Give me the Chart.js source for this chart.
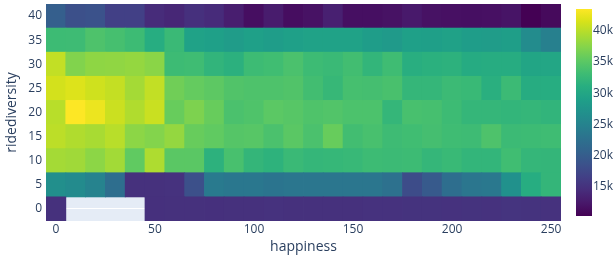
<!DOCTYPE html>
<html>
<head>
<meta charset="utf-8">
<script src="https://cdn.jsdelivr.net/npm/chart.js@4.4.1/dist/chart.umd.min.js"></script>
<style>
  body { margin: 0; background: #fff; }
  #wrap { position: relative; width: 614px; height: 260px; }
  #heat { position: absolute; left: 0; top: 0; }
  #cbar { position: absolute; left: 560px; top: 0; }
</style>
</head>
<body>
<div id="wrap">
  <canvas id="heat" width="614" height="260"></canvas>
  <canvas id="cbar" width="54" height="260"></canvas>
</div>
<script>
// bin centres
const xBins = ['0', '10', '20', '30', '40', '50', '60', '70', '80', '90', '100', '110', '120',
    '130', '140', '150', '160', '170', '180', '190', '200', '210', '220', '230', '240', '250'];
const yBins = [0, 5, 10, 15, 20, 25, 30, 35, 40];
const yTicks = [0, 5, 10, 15, 20, 25, 30, 35, 40];
const cbTicks = [15000, 20000, 25000, 30000, 35000, 40000];

// counts per row (null = empty bin)
const row0 = [14900, null, null, null, null, 14800, 14900, 14900, 14800, 14900, 14900, 15000, 14900,
    14900, 14900, 14900, 15000, 15000, 15100, 15100, 15000, 15100, 15000, 15200, 15100, 15000];
const row5 = [26700, 26100, 25000, 22300, 14900, 14900, 15000, 18400, 23800, 23500, 23400, 23000, 23300,
    23300, 23300, 23300, 23300, 22600, 17900, 19600, 22200, 23300, 23600, 27000, 31000, 32200];
const row10 = [39000, 38800, 37800, 38900, 35400, 39500, 35000, 35000, 31600, 33800, 32200, 31700, 32800,
    32300, 32400, 32600, 33000, 32900, 33000, 32300, 32700, 32100, 32100, 33300, 32300, 32200];
const row15 = [40200, 39600, 39200, 40000, 37800, 37300, 38200, 35800, 35400, 34700, 34800, 34000, 35000,
    34000, 35800, 33400, 33800, 33100, 33300, 33600, 33200, 33100, 34200, 32900, 33000, 33200];
const row20 = [40000, 43500, 42600, 40900, 39600, 40800, 35800, 37000, 35800, 34000, 34300, 35100, 34800,
    34300, 34500, 34100, 34100, 32300, 33800, 33700, 33000, 32300, 32300, 32100, 32300, 32000];
const row25 = [41300, 41800, 41100, 40600, 39000, 40500, 36300, 35600, 35200, 34400, 34200, 34200, 34400,
    33400, 32500, 33700, 33600, 33900, 32300, 32300, 32900, 32700, 31300, 32900, 30900, 31000];
const row30 = [40500, 37200, 37900, 38000, 38200, 37700, 33000, 33200, 32000, 31500, 33000, 33300, 34000,
    33000, 32800, 33400, 32100, 33200, 31200, 31400, 31600, 30700, 30900, 30900, 29800, 29900];
const row35 = [33000, 33100, 34200, 33700, 33000, 31000, 32800, 29300, 29000, 28500, 29000, 28700, 29000,
    29300, 29300, 29300, 28600, 28200, 29100, 28900, 29200, 28600, 28500, 28800, 26300, 24600];
const row40 = [20200, 18400, 18600, 16600, 16600, 14400, 13900, 14800, 14300, 13000, 11500, 12800, 11400,
    11800, 13200, 11600, 11600, 11800, 12500, 11800, 11700, 11600, 11700, 12000, 10300, 11100];

const rows = [row0, row5, row10, row15, row20, row25, row30, row35, row40];
const binHalf = 2.5;

const allVals = rows.flat().filter(v => v != null);
const zmin = Math.min(...allVals);
const zmax = Math.max(...allVals);

// plotly viridis
const viridis = [
    [0, '#440154'], [0.0627, '#48186a'], [0.1255, '#472d7b'], [0.1882, '#424086'],
    [0.2510, '#3b528b'], [0.3137, '#33638d'], [0.3765, '#2c728e'], [0.4392, '#26828e'],
    [0.5020, '#21918c'], [0.5647, '#1fa088'], [0.6275, '#28ae80'], [0.6902, '#3fbc73'],
    [0.7529, '#5ec962'], [0.8157, '#84d44b'], [0.8784, '#addc30'], [0.9412, '#d8e219'],
    [1, '#fde725']
];

function hexRgb(h) {
    return [parseInt(h.slice(1, 3), 16), parseInt(h.slice(3, 5), 16), parseInt(h.slice(5, 7), 16)];
}

function colorFor(v) {
    var t = (v - zmin) / (zmax - zmin);
    t = Math.max(0, Math.min(1, t));
    for (var i = 1; i < viridis.length; i++) {
        if (t <= viridis[i][0]) {
            var a = viridis[i - 1], b = viridis[i];
            var f = (t - a[0]) / (b[0] - a[0]);
            var ca = hexRgb(a[1]), cb = hexRgb(b[1]);
            var c = ca.map((x, k) => Math.round(x + (cb[k] - x) * f));
            return 'rgb(' + c.join(',') + ')';
        }
    }
    return viridis[viridis.length - 1][1];
}

const fontFamily = '"Open Sans", verdana, arial, sans-serif';
const textColor = '#2a3f5f';

const plotBg = {
    id: 'plotBg',
    beforeDraw(chart) {
        const a = chart.chartArea;
        chart.ctx.save();
        chart.ctx.fillStyle = '#E5ECF6';
        chart.ctx.fillRect(a.left, a.top, a.right - a.left, a.bottom - a.top);
        chart.ctx.restore();
    }
};

const datasets = yBins.map((y, i) => ({
    data: rows[i].map(v => v == null ? null : [y - binHalf, y + binHalf]),
    backgroundColor: rows[i].map(v => v == null ? 'rgba(0,0,0,0)' : colorFor(v)),
    borderWidth: 0,
    inflateAmount: 0.4,
    grouped: false,
    barPercentage: 1,
    categoryPercentage: 1
}));

new Chart(document.getElementById('heat').getContext('2d'), {
    type: 'bar',
    data: { labels: xBins, datasets: datasets },
    plugins: [plotBg],
    options: {
        responsive: false,
        devicePixelRatio: 1,
        animation: false,
        layout: { padding: { left: 0, right: 53, top: 4, bottom: 0 } },
        plugins: { legend: { display: false }, tooltip: { enabled: false } },
        scales: {
            x: {
                type: 'category',
                offset: true,
                grid: { display: false, drawTicks: false },
                border: { display: false },
                ticks: {
                    autoSkip: false,
                    maxRotation: 0,
                    padding: 1,
                    color: textColor,
                    font: { family: fontFamily, size: 12 },
                    callback: function (val) {
                        var l = this.getLabelForValue(val);
                        return Number(l) % 50 === 0 ? l : null;
                    }
                },
                title: {
                    display: true,
                    text: 'happiness',
                    color: textColor,
                    font: { family: fontFamily, size: 14 },
                    padding: { top: 0, bottom: 5 }
                },
                afterFit: function (s) {
                    s.height = 39;
                    s.paddingLeft = 0;
                    s.paddingRight = 0;
                }
            },
            y: {
                type: 'linear',
                min: -2.5,
                max: 42.5,
                afterBuildTicks: function (s) {
                    s.ticks = yTicks.map(v => ({ value: v }));
                },
                grid: { color: '#ffffff', lineWidth: 1, drawTicks: false },
                border: { display: false },
                ticks: {
                    padding: 4,
                    color: textColor,
                    font: { family: fontFamily, size: 12 }
                },
                title: {
                    display: true,
                    text: 'ridediversity',
                    color: textColor,
                    font: { family: fontFamily, size: 14 },
                    padding: { top: 4, bottom: 0 }
                },
                afterFit: function (s) {
                    s.width = 46;
                    s.paddingTop = 0;
                    s.paddingBottom = 0;
                }
            }
        }
    }
});

// colour bar
new Chart(document.getElementById('cbar').getContext('2d'), {
    type: 'bar',
    data: {
        labels: [''],
        datasets: [{
            data: [[zmin, zmax]],
            borderWidth: 0,
            barPercentage: 1,
            categoryPercentage: 1,
            backgroundColor: function (context) {
                const a = context.chart.chartArea;
                if (!a) return null;
                const g = context.chart.ctx.createLinearGradient(0, a.bottom, 0, a.top);
                viridis.forEach(s => g.addColorStop(s[0], s[1]));
                return g;
            }
        }]
    },
    options: {
        responsive: false,
        devicePixelRatio: 1,
        animation: false,
        layout: { padding: { left: 16, right: 0, top: 9, bottom: 44 } },
        plugins: { legend: { display: false }, tooltip: { enabled: false } },
        scales: {
            x: { display: false, offset: true },
            y: {
                position: 'right',
                min: zmin,
                max: zmax,
                afterBuildTicks: function (s) {
                    s.ticks = cbTicks.map(v => ({ value: v }));
                },
                grid: { display: false, drawTicks: false },
                border: { display: false },
                ticks: {
                    padding: 1,
                    color: textColor,
                    font: { family: fontFamily, size: 12 },
                    callback: v => (v / 1000) + 'k'
                },
                afterFit: function (s) {
                    s.width = 22;
                    s.paddingTop = 0;
                    s.paddingBottom = 0;
                }
            }
        }
    }
});
</script>
</body>
</html>
